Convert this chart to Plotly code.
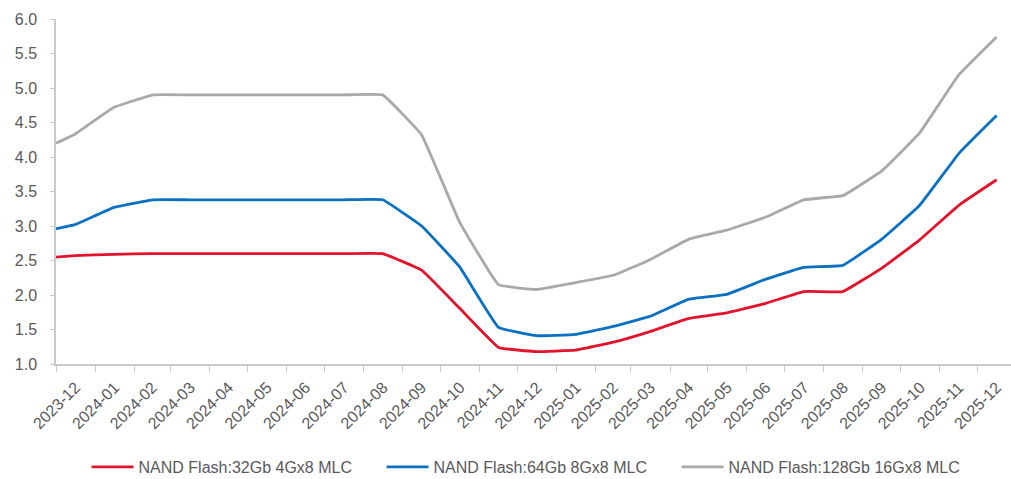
import plotly.graph_objects as go

# Monthly price series (USD), NAND Flash MLC parts
months = [
    "2023-12", "2024-01", "2024-02", "2024-03", "2024-04", "2024-05", "2024-06",
    "2024-07", "2024-08", "2024-09", "2024-10", "2024-11", "2024-12", "2025-01",
    "2025-02", "2025-03", "2025-04", "2025-05", "2025-06", "2025-07", "2025-08",
    "2025-09", "2025-10", "2025-11", "2025-12",
]
# first observation sits at the start of the window, the rest mid-month
point_dates = ["2023-12-01"] + [f"{m}-16" for m in months]

nand_32gb = [2.55, 2.57, 2.59, 2.60, 2.60, 2.60, 2.60, 2.60, 2.60, 2.60, 2.36,
             1.81, 1.24, 1.18, 1.20, 1.32, 1.47, 1.66, 1.74, 1.88, 2.05, 2.05,
             2.39, 2.80, 3.30, 3.67]
nand_64gb = [2.96, 3.02, 3.27, 3.38, 3.38, 3.38, 3.38, 3.38, 3.38, 3.38, 3.00,
             2.41, 1.53, 1.41, 1.43, 1.55, 1.69, 1.94, 2.01, 2.23, 2.40, 2.43,
             2.81, 3.30, 4.05, 4.60]
nand_128gb = [4.20, 4.33, 4.72, 4.90, 4.90, 4.90, 4.90, 4.90, 4.90, 4.90, 4.32,
              3.06, 2.15, 2.08, 2.18, 2.29, 2.51, 2.81, 2.94, 3.13, 3.38, 3.44,
              3.80, 4.35, 5.19, 5.74]

series = [
    ("NAND Flash:32Gb 4Gx8 MLC", nand_32gb, "#E2142C"),
    ("NAND Flash:64Gb 8Gx8 MLC", nand_64gb, "#0A70C2"),
    ("NAND Flash:128Gb 16Gx8 MLC", nand_128gb, "#A9A9A9"),
]

FONT = "Liberation Sans, Arial, sans-serif"
TEXT = "#595959"
AXIS = "#C9C9C9"

fig = go.Figure()
for name, vals, color in series:
    fig.add_trace(go.Scatter(
        x=point_dates, y=vals, name=name, mode="lines",
        line=dict(color=color, width=2.8, shape="spline", smoothing=0.25),
    ))

fig.update_layout(
    width=1011, height=479,
    margin=dict(l=56, r=0, t=19, b=115, autoexpand=False),
    paper_bgcolor="white", plot_bgcolor="white",
    font=dict(family=FONT, size=14, color=TEXT),
    showlegend=True,
    legend=dict(
        orientation="h", x=0.032, xanchor="left",
        yref="container", y=0.025, yanchor="middle",
        itemwidth=42, entrywidth=238, entrywidthmode="pixels",
        font=dict(family=FONT, size=16, color=TEXT),
        bgcolor="rgba(0,0,0,0)",
    ),
)

fig.update_xaxes(
    type="date",
    range=["2023-12-01", "2025-12-27 10:00"],
    dtick="M1", tick0="2023-12-01",
    tickformat="%Y-%m", ticklabelmode="period",
    tickangle=-45,
    ticks="outside", ticklen=6, tickcolor=AXIS,
    showline=True, linecolor=AXIS, linewidth=1.5,
    showgrid=False, zeroline=False,
    tickfont=dict(family=FONT, size=16, color=TEXT),
)

fig.update_yaxes(
    range=[1.0, 6.0], dtick=0.5, tickformat=".1f",
    ticks="outside", ticklen=4, tickcolor=AXIS,
    ticklabelstandoff=10,
    showline=True, linecolor=AXIS, linewidth=1.5,
    showgrid=False, zeroline=False,
    tickfont=dict(family=FONT, size=16, color=TEXT),
)

fig.write_html("out.html")
